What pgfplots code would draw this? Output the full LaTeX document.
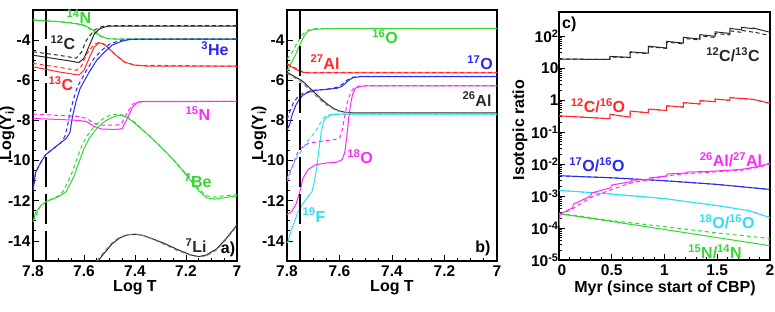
\documentclass[border=0pt]{standalone}
\usepackage{pgfplots}
\pgfplotsset{compat=1.18}
\usepackage{fontspec}
\setmainfont{Liberation Sans}
\definecolor{cgreen}{RGB}{50,215,50}
\definecolor{cred}{RGB}{255,40,40}
\definecolor{cblue}{RGB}{40,40,240}
\definecolor{cmag}{RGB}{255,40,255}
\definecolor{ccyan}{RGB}{40,225,240}
\definecolor{cblack}{RGB}{40,40,40}
\pgfplotsset{myax/.style={scale only axis, anchor=south west, tick align=inside,
  xtick pos=left, ytick pos=left, axis line style={line width=1.2pt},
  major tick length=6pt, minor tick length=3pt,
  every tick/.style={line width=0.8pt, black},
  ticklabel style={font=\fontsize{15.5}{17}\selectfont\bfseries},
  yticklabel style={xshift=1pt}, xticklabel style={yshift=-1.5pt},
  every axis plot/.append style={line width=1pt}},
  sol/.style={solid}, dsh/.style={dash pattern=on 4pt off 3pt},
  vline/.style={black, line width=2.2pt, dash pattern=on 30pt off 7pt}}
\newcommand{\lab}{\fontsize{16}{18}\selectfont\bfseries}
\begin{document}
\begin{tikzpicture}
\useasboundingbox (0pt,0pt) rectangle (775pt,311pt);
% ---------------- panel a
\begin{axis}[myax, at={(33pt,50pt)}, width=204pt, height=251pt,
  x dir=reverse, xmin=7, xmax=7.8, ymin=-15, ymax=-2.5,
  xtick={7,7.2,7.4,7.6,7.8}, xticklabels={7,7.2,7.4,7.6,7.8}, minor x tick num=3,
  ytick={-14,-12,-10,-8,-6,-4}, yticklabels={-14,-12,-10,-8,-6,-4}, minor y tick num=3]
\addplot[vline] coordinates {(7.75,-15) (7.75,-2.5)};
% 14N
\addplot[cgreen,sol] coordinates {(7.8,-3.0)(7.7,-3.08)(7.65,-3.15)(7.6,-3.25)(7.57,-3.45)(7.54,-3.75)(7.51,-3.92)(7.48,-3.95)(7,-3.95)};
\addplot[cgreen,dsh] coordinates {(7.8,-3.0)(7.7,-3.07)(7.65,-3.13)(7.61,-3.22)(7.58,-3.42)(7.55,-3.72)(7.52,-3.9)(7.49,-3.94)(7,-3.94)};
% 12C
\addplot[cblack,sol] coordinates {(7.8,-4.75)(7.75,-4.85)(7.7,-4.95)(7.65,-5.05)(7.62,-5.12)(7.6,-4.9)(7.58,-4.3)(7.56,-3.7)(7.54,-3.45)(7.52,-3.35)(7.5,-3.3)(7.0,-3.3)};
\addplot[cblack,dsh] coordinates {(7.8,-4.58)(7.7,-4.75)(7.63,-4.9)(7.61,-4.6)(7.59,-4.0)(7.56,-3.5)(7.53,-3.33)(7.5,-3.28)(7,-3.28)};
% 13C
\addplot[cred,sol] coordinates {(7.8,-5.33)(7.75,-5.45)(7.7,-5.58)(7.65,-5.68)(7.62,-5.74)(7.6,-5.5)(7.58,-4.9)(7.56,-4.35)(7.54,-4.13)(7.52,-4.2)(7.5,-4.45)(7.47,-4.8)(7.44,-5.1)(7.4,-5.25)(7.35,-5.3)(7,-5.3)};
\addplot[cred,dsh] coordinates {(7.8,-5.16)(7.7,-5.35)(7.63,-5.5)(7.61,-5.3)(7.59,-4.7)(7.56,-4.2)(7.54,-4.12)(7.52,-4.22)(7.5,-4.45)(7.47,-4.8)(7.44,-5.1)(7.4,-5.25)(7,-5.3)};
% 3He
\addplot[cblue,sol] coordinates {(7.8,-11.5)(7.79,-10.6)(7.77,-10.1)(7.75,-9.7)(7.72,-9.4)(7.69,-9.1)(7.67,-8.9)(7.655,-8.6)(7.645,-7.8)(7.63,-7.0)(7.615,-6.4)(7.58,-5.6)(7.55,-5.0)(7.52,-4.6)(7.49,-4.25)(7.45,-4.05)(7.42,-3.97)(7.4,-3.95)(7,-3.95)};
\addplot[cblue,dsh] coordinates {(7.8,-11.5)(7.79,-10.6)(7.77,-10.1)(7.75,-9.7)(7.72,-9.4)(7.69,-9.1)(7.675,-8.8)(7.665,-8.3)(7.655,-7.6)(7.64,-6.9)(7.625,-6.3)(7.59,-5.5)(7.56,-4.9)(7.53,-4.5)(7.5,-4.2)(7.46,-4.02)(7.43,-3.96)(7,-3.95)};
% 15N
\addplot[cmag,sol] coordinates {(7.8,-7.9)(7.7,-7.95)(7.62,-8.0)(7.59,-8.06)(7.56,-8.3)(7.53,-8.43)(7.47,-8.45)(7.45,-8.4)(7.43,-7.9)(7.41,-7.35)(7.39,-7.1)(7.36,-7.05)(7,-7.05)};
\addplot[cmag,dsh] coordinates {(7.8,-7.68)(7.7,-7.75)(7.62,-7.8)(7.59,-7.9)(7.56,-8.15)(7.53,-8.23)(7.47,-8.23)(7.45,-8.1)(7.43,-7.6)(7.41,-7.2)(7.39,-7.07)(7,-7.05)};
% 7Be
\addplot[cgreen,sol] coordinates {(7.8,-13.05)(7.79,-12.6)(7.77,-12.25)(7.75,-12.05)(7.7,-11.8)(7.67,-11.55)(7.64,-10.8)(7.62,-10.1)(7.6,-9.4)(7.58,-8.9)(7.55,-8.4)(7.52,-8.05)(7.49,-7.85)(7.46,-7.73)(7.43,-7.85)(7.4,-8.15)(7.35,-8.7)(7.3,-9.3)(7.25,-9.95)(7.2,-10.7)(7.15,-11.5)(7.12,-11.85)(7.09,-11.92)(7.05,-11.85)(7.0,-11.75)};
\addplot[cgreen,dsh] coordinates {(7.8,-13.05)(7.77,-12.25)(7.75,-12.05)(7.7,-11.75)(7.68,-11.5)(7.65,-10.7)(7.63,-10.0)(7.61,-9.3)(7.59,-8.8)(7.56,-8.3)(7.53,-7.95)(7.5,-7.75)(7.47,-7.68)(7.44,-7.75)(7.4,-8.1)(7.35,-8.7)(7.3,-9.3)(7.25,-9.95)(7.2,-10.65)(7.15,-11.4)(7.12,-11.75)(7.09,-11.82)(7.05,-11.75)(7.0,-11.7)};
% 7Li
\addplot[cblack,sol] coordinates {(7.545,-15)(7.52,-14.6)(7.49,-14.15)(7.46,-13.85)(7.43,-13.7)(7.4,-13.67)(7.37,-13.72)(7.33,-13.9)(7.28,-14.15)(7.23,-14.45)(7.18,-14.7)(7.15,-14.78)(7.12,-14.7)(7.08,-14.4)(7.04,-13.85)(7.0,-13.2)};
\addplot[black!50,dsh] coordinates {(7.55,-15)(7.525,-14.6)(7.495,-14.15)(7.465,-13.85)(7.435,-13.7)(7.4,-13.65)(7.37,-13.72)(7.33,-13.92)(7.28,-14.2)(7.23,-14.5)(7.18,-14.72)(7.15,-14.8)(7.12,-14.75)(7.08,-14.45)(7.04,-13.9)(7.0,-13.25)};
\end{axis}
% ---------------- panel b
\begin{axis}[myax, at={(287pt,50pt)}, width=210pt, height=251pt,
  x dir=reverse, xmin=7, xmax=7.8, ymin=-15, ymax=-2.5,
  xtick={7,7.2,7.4,7.6,7.8}, xticklabels={7,7.2,7.4,7.6,7.8}, minor x tick num=3,
  ytick={-14,-12,-10,-8,-6,-4}, yticklabels={-14,-12,-10,-8,-6,-4}, minor y tick num=3]
% 16O
\addplot[cgreen,sol] coordinates {(7.8,-5.55)(7.79,-5.3)(7.77,-4.8)(7.75,-4.2)(7.735,-3.8)(7.72,-3.55)(7.7,-3.47)(7.65,-3.43)(7,-3.42)};
\addplot[cgreen,dsh] coordinates {(7.8,-4.95)(7.78,-4.6)(7.76,-4.1)(7.74,-3.7)(7.72,-3.5)(7.69,-3.43)(7,-3.42)};
% 27Al
\addplot[cred,sol] coordinates {(7.8,-5.22)(7.78,-5.35)(7.76,-5.5)(7.74,-5.6)(7.72,-5.63)(7,-5.63)};
\addplot[cred,dsh] coordinates {(7.8,-5.18)(7.78,-5.3)(7.76,-5.46)(7.74,-5.57)(7.72,-5.61)(7,-5.61)};
% 17O
\addplot[cblue,sol] coordinates {(7.8,-8.48)(7.79,-8.2)(7.78,-7.7)(7.765,-7.2)(7.75,-6.9)(7.74,-6.75)(7.72,-6.6)(7.69,-6.5)(7.65,-6.45)(7.61,-6.4)(7.59,-6.3)(7.57,-6.05)(7.55,-5.88)(7.52,-5.82)(7,-5.82)};
\addplot[cblue,dsh] coordinates {(7.8,-7.95)(7.79,-7.6)(7.775,-7.1)(7.76,-6.85)(7.74,-6.65)(7.7,-6.5)(7.65,-6.45)(7.61,-6.35)(7.59,-6.2)(7.57,-5.98)(7.55,-5.85)(7.52,-5.8)(7,-5.8)};
% 26Al
\addplot[cblack,sol] coordinates {(7.8,-5.6)(7.78,-5.75)(7.76,-5.9)(7.74,-6.05)(7.72,-6.3)(7.7,-6.55)(7.68,-6.8)(7.66,-7.05)(7.64,-7.25)(7.62,-7.42)(7.6,-7.53)(7.58,-7.59)(7.55,-7.62)(7,-7.62)};
\addplot[black!50,dsh] coordinates {(7.8,-5.65)(7.78,-5.8)(7.76,-5.97)(7.74,-6.15)(7.72,-6.4)(7.7,-6.65)(7.68,-6.9)(7.66,-7.12)(7.64,-7.3)(7.62,-7.45)(7.6,-7.55)(7.58,-7.6)(7.55,-7.63)(7,-7.63)};
% 19F
\addplot[ccyan,sol] coordinates {(7.8,-14.1)(7.795,-14.0)(7.785,-13.5)(7.77,-13.0)(7.76,-12.6)(7.74,-12.15)(7.72,-11.8)(7.705,-11.55)(7.695,-11.0)(7.685,-10.2)(7.678,-9.4)(7.67,-8.6)(7.66,-8.05)(7.65,-7.85)(7.63,-7.72)(7.6,-7.68)(7,-7.68)};
\addplot[ccyan,dsh] coordinates {(7.8,-10.9)(7.78,-10.3)(7.76,-9.8)(7.74,-9.4)(7.72,-9.0)(7.7,-8.7)(7.68,-8.3)(7.665,-7.95)(7.65,-7.75)(7.62,-7.68)(7,-7.68)};
% 18O
\addplot[cmag,sol] coordinates {(7.8,-12.7)(7.78,-12.5)(7.765,-12.15)(7.75,-11.5)(7.74,-10.9)(7.72,-10.45)(7.69,-10.2)(7.65,-10.12)(7.61,-10.08)(7.59,-9.95)(7.58,-9.6)(7.572,-8.8)(7.565,-7.9)(7.558,-7.2)(7.55,-6.7)(7.54,-6.4)(7.52,-6.3)(7.5,-6.28)(7,-6.28)};
\addplot[cmag,dsh] coordinates {(7.8,-11.05)(7.78,-10.3)(7.76,-9.6)(7.74,-9.3)(7.72,-9.15)(7.68,-9.05)(7.63,-8.98)(7.6,-8.9)(7.59,-8.5)(7.58,-7.8)(7.57,-7.1)(7.56,-6.7)(7.55,-6.45)(7.53,-6.3)(7.5,-6.27)(7,-6.27)};
\addplot[vline, line width=2.6pt] coordinates {(7.75,-15) (7.75,-2.5)};
\end{axis}
% ---------------- panel c
\begin{axis}[myax, at={(559pt,51pt)}, width=211pt, height=248pt,
  xmin=0, xmax=2, ymode=log, ymin=1e-5, ymax=562,
  xtick={0,0.5,1,1.5,2}, xticklabels={\hspace*{6pt}0,0.5,1,1.5,2}, minor x tick num=4,
  ytick={1e-5,1e-4,1e-3,1e-2,1e-1,1,10,100},
  yticklabels={10\textsuperscript{-5},10\textsuperscript{-4},10\textsuperscript{-3},10\textsuperscript{-2},10\textsuperscript{-1},1,10,10\textsuperscript{2}},
  yticklabel style={xshift=2pt}]
% 12C/13C
\addplot[cblack,sol] coordinates {(0,19)(0.483,18.5)(0.483,23)(0.673,21.5)(0.673,32)(0.847,29)(0.847,48)(1.02,42)(1.02,68)(1.178,60)(1.178,91)(1.336,80)(1.336,110)(1.479,98)(1.479,135)(1.62,120)(1.62,173)(1.73,155)(1.73,186)(1.84,170)(1.84,178)(2.0,131)};
\addplot[cblack,dsh] coordinates {(0,19)(0.483,18.5)(0.483,22)(0.673,21)(0.673,31)(0.847,28)(0.847,46)(1.02,41)(1.02,64)(1.178,57)(1.178,84)(1.336,75)(1.336,100)(1.479,90)(1.479,120)(1.62,108)(1.62,145)(1.73,130)(1.73,150)(1.84,132)(1.84,135)(2.0,102)};
% 12C/16O
\addplot[cred,sol] coordinates {(0,0.32)(0.483,0.26)(0.483,0.36)(0.673,0.29)(0.673,0.45)(0.847,0.4)(0.847,0.52)(1.02,0.47)(1.02,0.66)(1.178,0.6)(1.178,0.83)(1.336,0.75)(1.336,0.96)(1.479,0.88)(1.479,1.07)(1.62,0.98)(1.62,1.2)(1.73,1.1)(1.73,1.12)(1.84,1.05)(2.0,0.79)};
\addplot[cred,dsh] coordinates {(0,0.32)(0.483,0.26)(0.483,0.355)(0.673,0.29)(0.673,0.445)(0.847,0.4)(0.847,0.515)(1.02,0.47)(1.02,0.655)(1.178,0.6)(1.178,0.82)(1.336,0.75)(1.336,0.95)(1.479,0.88)(1.479,1.06)(1.62,0.98)(1.62,1.19)(1.73,1.1)(1.73,1.11)(1.84,1.04)(2.0,0.78)};
% 17O/16O
\addplot[cblue,sol] coordinates {(0,4.3e-3)(0.5,3.7e-3)(1.0,3.0e-3)(1.5,2.3e-3)(2,1.6e-3)};
\addplot[cblue,dsh] coordinates {(0,4.3e-3)(0.5,3.7e-3)(1.0,3.0e-3)(1.5,2.3e-3)(2,1.6e-3)};
% 18O/16O
\addplot[ccyan,sol] coordinates {(0,1.5e-3)(0.5,1.15e-3)(1.0,8.3e-4)(1.5,5e-4)(1.8,3.5e-4)(2,2.1e-4)};
\addplot[ccyan,dsh] coordinates {(0,1.5e-3)(0.5,1.15e-3)(1.0,8.3e-4)(1.5,5e-4)(1.8,3.5e-4)(2,2.1e-4)};
% 15N/14N
\addplot[cgreen,sol] coordinates {(0,2.8e-4)(0.5,1.6e-4)(1,9e-5)(1.5,5e-5)(2,2.8e-5)};
\addplot[cgreen,dsh] coordinates {(0,2.9e-4)(0.5,1.7e-4)(1,1.1e-4)(1.5,7e-5)(2,4.7e-5)};
% 26Al/27Al
\addplot[cmag,sol] coordinates {(0,1.0e-4)(0.01,2.7e-4)(0.13,4.3e-4)(0.136,5.5e-4)(0.30,1.0e-3)(0.31,1.25e-3)(0.49,1.8e-3)(0.5,2.2e-3)(0.68,2.8e-3)(0.69,3.1e-3)(0.85,3.3e-3)(0.863,3.7e-3)(1.02,4.2e-3)(1.03,4.9e-3)(1.2,5.2e-3)(1.21,5.6e-3)(1.38,5.8e-3)(1.55,6.2e-3)(1.73,6.8e-3)(1.9,8.5e-3)(2.0,1.07e-2)};
\addplot[cmag,dsh] coordinates {(0,2.6e-4)(0.13,4.0e-4)(0.3,9e-4)(0.5,1.6e-3)(0.69,2.6e-3)(0.863,3.3e-3)(1.03,4.3e-3)(1.2,5.0e-3)(1.38,5.4e-3)(1.55,5.9e-3)(1.73,6.4e-3)(1.9,8e-3)(2.0,1.0e-2)};
\end{axis}
% ---------------- labels
\begin{scope}[x=1pt, y=1pt, every node/.style={font=\lab, inner sep=0pt}]
\node[cgreen] at (79,294) {\textsuperscript{14}N};
\node[cblack] at (63,268) {\textsuperscript{12}C};
\node[cred] at (61,227) {\textsuperscript{13}C};
\node[cblue] at (215,262) {\textsuperscript{3}He};
\node[cmag] at (198,197) {\textsuperscript{15}N};
\node[cgreen] at (198,130) {\textsuperscript{7}Be};
\node[cblack] at (196,65) {\textsuperscript{7}Li};
\node[black] at (228,62) {a)};
\node[cgreen] at (385,274) {\textsuperscript{16}O};
\node[cred] at (325,249) {\textsuperscript{27}Al};
\node[cblue] at (480,248) {\textsuperscript{17}O};
\node[cblack] at (477,212) {\textsuperscript{26}Al};
\node[cmag] at (360,154) {\textsuperscript{18}O};
\node[ccyan] at (314,96) {\textsuperscript{19}F};
\node[black] at (483,63) {b)};
\node[black, anchor=west] at (562,287) {c)};
\node[cblack] at (733,256) {\textsuperscript{12}C/\textsuperscript{13}C};
\node[cred] at (598,205) {\textsuperscript{12}C/\textsuperscript{16}O};
\node[cblue] at (597,146) {\textsuperscript{17}O/\textsuperscript{16}O};
\node[cmag] at (731,151) {\textsuperscript{26}Al/\textsuperscript{27}Al};
\node[ccyan] at (727,89) {\textsuperscript{18}O/\textsuperscript{16}O};
\node[cgreen] at (715,59) {\textsuperscript{15}N/\textsuperscript{14}N};
\node at (135,23) {Log T};
\node at (392,23) {Log T};
\node at (665,23) {Myr (since start of CBP)};
\node[rotate=90] at (7,178) {Log(Y\textsubscript{i})};
\node[rotate=90] at (259,178) {Log(Y\textsubscript{i})};
\node[rotate=90] at (520,181) {Isotopic ratio};
\end{scope}
\end{tikzpicture}
\end{document}
